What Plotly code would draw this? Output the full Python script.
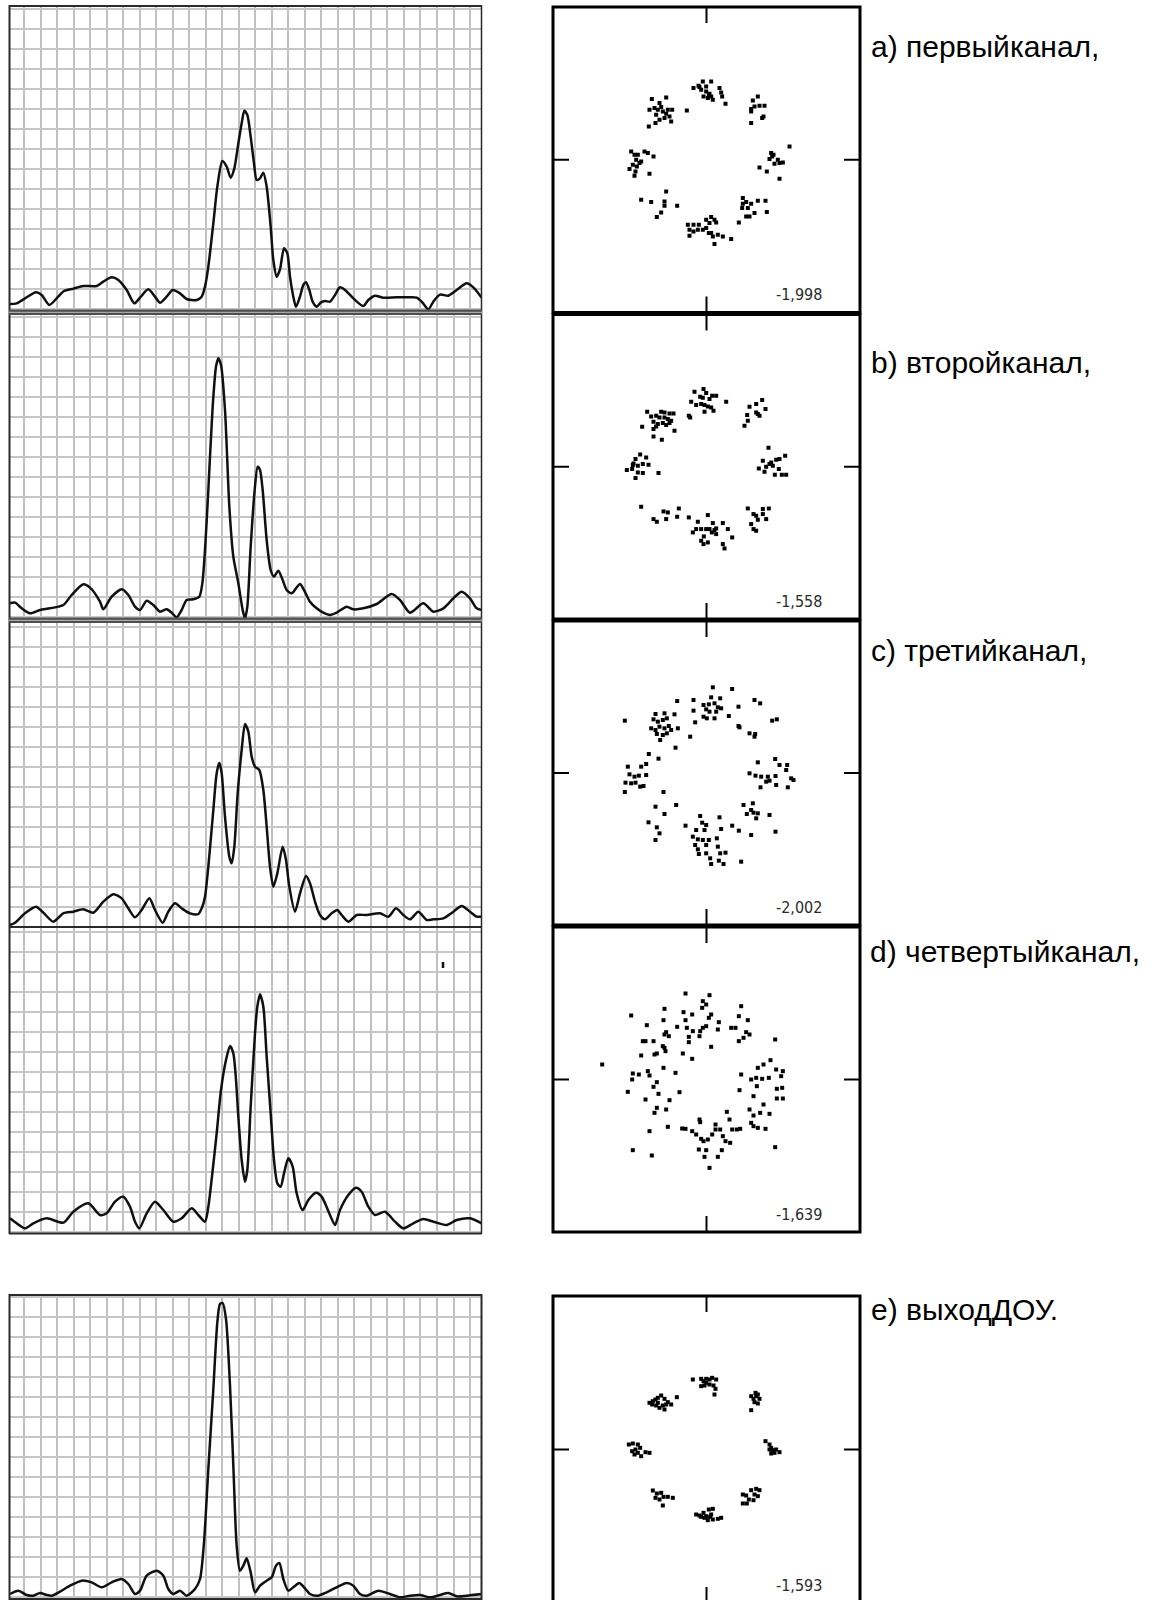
import plotly.graph_objects as go

FIG_W, FIG_H = 1159, 1600

# ---------------- correlation responses: delay (samples) and amplitude ----------------
ch1_delay = [3, 23, 48, 81, 98, 121, 143, 165, 193, 223, 263, 283, 308, 328, 353, 376, 393, 418, 438, 453,
             473, 491, 513, 533, 563, 578, 588, 598, 613, 625, 640, 653, 665, 676, 688, 698, 706, 715, 725, 735,
             743, 753, 763, 773, 785, 793, 803, 813, 825, 835, 843, 853, 861, 873, 883, 891, 901, 911, 923, 935,
             948, 963, 978, 993, 1008, 1033, 1063, 1078, 1098, 1123, 1163, 1203, 1223, 1238, 1258, 1273, 1293,
             1318, 1343, 1373, 1393, 1418]
ch1_amp = [24, 26, 41, 59, 51, 21, 41, 63, 70, 78, 78, 91, 104, 96, 66, 26, 43, 68, 46, 28,
           46, 66, 56, 39, 36, 46, 76, 136, 266, 376, 453, 436, 403, 431, 506, 566, 604, 591, 526, 446,
           396, 401, 418, 376, 256, 156, 106, 128, 191, 176, 106, 46, 16, 46, 81, 89, 66, 31, 16, 28,
           33, 31, 51, 74, 66, 41, 18, 36, 49, 43, 44, 44, 43, 31, 8, 31, 52,
           49, 66, 86, 74, 43]

ch2_delay = [3, 18, 38, 63, 93, 123, 163, 188, 223, 243, 273, 283, 308, 338, 358, 378, 393, 413, 433, 453,
             473, 488, 503, 518, 533, 553, 571, 580, 588, 598, 611, 621, 628, 636, 648, 661, 673, 688, 701, 708,
             715, 725, 737, 746, 753, 761, 773, 785, 795, 808, 821, 833, 848, 861, 873, 885, 903, 923, 943, 963,
             983, 1013, 1033, 1063, 1103, 1148, 1173, 1203, 1243, 1273, 1303, 1333, 1358, 1383, 1403, 1418]
ch2_amp = [50, 52, 35, 20, 30, 35, 45, 75, 107, 97, 55, 32, 70, 92, 75, 40, 30, 58, 45, 25,
           32, 22, 8, 30, 60, 62, 70, 110, 210, 390, 640, 760, 785, 765, 630, 340, 190, 110, 30, 5,
           40, 220, 390, 460, 450, 390, 240, 150, 130, 148, 120, 90, 80, 95, 108, 90, 55, 35, 22, 15,
           22, 40, 32, 35, 48, 78, 60, 22, 50, 25, 35, 65, 85, 65, 35, 30]

ch3_delay = [3, 18, 48, 81, 103, 133, 163, 193, 223, 253, 283, 313, 338, 358, 378, 398, 421, 438, 461, 478,
             498, 518, 543, 568, 580, 588, 598, 613, 623, 631, 638, 648, 661, 668, 676, 686, 698, 708, 718, 728,
             738, 751, 763, 773, 783, 793, 805, 821, 831, 841, 858, 873, 891, 903, 918, 933, 948, 968, 985, 998,
             1018, 1043, 1073, 1113, 1138, 1161, 1183, 1203, 1228, 1253, 1273, 1303, 1333, 1358, 1383, 1403, 1418]
ch3_amp = [6, 13, 41, 61, 43, 16, 41, 46, 53, 43, 76, 98, 86, 56, 29, 51, 86, 51, 13, 46,
           71, 56, 41, 39, 61, 91, 181, 351, 461, 493, 461, 331, 211, 191, 241, 401, 531, 609, 586, 511,
           481, 471, 411, 301, 181, 121, 161, 241, 201, 121, 46, 101, 153, 131, 76, 36, 23, 41, 51, 36,
           16, 36, 36, 41, 31, 56, 36, 23, 46, 21, 23, 26, 46, 63, 46, 31, 31]

ch4_delay = [3, 23, 48, 73, 113, 163, 193, 238, 273, 293, 318, 343, 363, 378, 391, 413, 438, 463, 493, 518,
             548, 568, 588, 598, 610, 623, 636, 651, 663, 673, 681, 688, 698, 708, 715, 725, 738, 745, 753, 763,
             773, 785, 795, 805, 815, 825, 838, 851, 863, 881, 898, 921, 938, 963, 978, 993, 1018, 1041, 1058,
             1078, 1098, 1128, 1158, 1183, 1213, 1243, 1273, 1313, 1343, 1383, 1418]
ch4_amp = [44, 29, 14, 29, 44, 31, 64, 89, 54, 59, 94, 109, 79, 34, 14, 59, 94, 69, 34, 44,
           74, 54, 34, 79, 179, 299, 429, 519, 561, 539, 459, 349, 219, 154, 189, 379, 599, 679, 716, 679,
           529, 359, 219, 149, 139, 179, 224, 199, 119, 69, 99, 121, 109, 54, 24, 69, 114, 136, 124,
           79, 54, 64, 34, 14, 29, 42, 34, 24, 39, 44, 29]

out_delay = [3, 28, 53, 73, 93, 113, 128, 153, 183, 218, 248, 278, 308, 338, 358, 378, 393, 413, 443, 463,
             478, 493, 513, 533, 558, 573, 585, 598, 613, 625, 633, 641, 651, 663, 673, 683, 693, 703, 713, 725,
             738, 753, 773, 788, 801, 811, 823, 838, 853, 871, 885, 903, 928, 953, 983, 1013, 1033, 1053, 1073,
             1108, 1143, 1173, 1203, 1233, 1263, 1293, 1318, 1343, 1373, 1418]
out_amp = [15, 25, 12, 10, 18, 12, 10, 22, 40, 55, 50, 35, 50, 60, 45, 15, 25, 70, 85, 70,
           30, 15, 25, 10, 30, 60, 170, 390, 630, 830, 885, 888, 840, 640, 400, 160, 85, 100, 122, 80,
           20, 40, 55, 65, 100, 108, 60, 25, 35, 48, 35, 15, 10, 20, 35, 48, 40, 15, 10,
           25, 15, 5, 10, 12, 5, 12, 18, 8, 10, 15]

# ---------------- received constellations: (I, Q) ----------------
const_ch1 = [(-39, 215), (-24, 222), (-11, 235), (14, 235), (-16, 210), (-1, 205), (7, 195), (14, 190), (4, 185),
             (-9, 190), (39, 215), (44, 202), (47, 190), (57, 168), (-21, 218), (-1, 220), (19, 180), (9, 198),
             (-164, 182), (-121, 187), (-141, 170), (-171, 150), (-156, 155), (-146, 150), (-151, 135), (-131, 145),
             (-116, 150), (-103, 150), (-111, 130), (-126, 125), (-141, 120), (-153, 110), (-173, 100), (-106, 115),
             (-59, 148), (-136, 158), (-121, 138),
             (139, 178), (154, 190), (134, 152), (144, 160), (159, 162), (174, 162), (134, 145), (167, 125),
             (171, 130), (134, 110),
             (-226, 25), (-216, 15), (-206, 15), (-186, 25), (-176, 20), (-159, 10), (-211, 0), (-221, -15),
             (-201, -10), (-231, -28), (-209, -20), (-213, -35), (-216, -48), (-171, -42), (-196, -5),
             (249, 40), (194, 20), (201, 15), (189, 2), (214, 0), (219, -10), (229, -8), (204, -12), (159, -23),
             (181, -35), (219, -57), (197, 10),
             (-196, -120), (-166, -127), (-121, -95), (-126, -125), (-126, -138), (-88, -138), (-136, -158),
             (-149, -172),
             (109, -115), (119, -127), (134, -132), (154, -123), (177, -123), (107, -145), (124, -145),
             (144, -160), (119, -170), (129, -170), (181, -157), (97, -188), (109, -132),
             (14, -172), (-1, -180), (24, -180), (-56, -195), (-39, -195), (-23, -195), (9, -190), (29, -188),
             (-51, -210), (-39, -215), (-26, -210), (-11, -210), (-1, -205), (14, -220), (19, -230), (34, -225),
             (49, -230), (74, -238), (24, -253), (-51, -228), (7, -220)]

const_ch2 = [(-36, 225), (-9, 233), (-1, 221), (-19, 210), (-11, 207), (17, 213), (29, 213), (59, 195), (-46, 195),
             (-31, 185), (-16, 188), (-6, 185), (4, 181), (14, 178), (21, 168), (-6, 165), (-53, 153), (-49, 148),
             (9, 203),
             (-178, 165), (-136, 165), (-126, 163), (-111, 160), (-99, 160), (-166, 151), (-151, 153), (-141, 148),
             (-126, 148), (-116, 143), (-106, 138), (-159, 135), (-146, 128), (-131, 131), (-121, 125), (-193, 120),
             (-159, 113), (-96, 108), (-159, 91), (-134, 81), (-151, 121), (-111, 131),
             (167, 200), (149, 188), (129, 180), (177, 173), (154, 158), (122, 155), (159, 153), (124, 138),
             (114, 123), (149, 163),
             (-199, 37), (-213, 23), (-181, 28), (-219, 10), (-206, 3), (-191, 8), (-174, 6), (-239, -10),
             (-223, -7), (-206, -17), (-191, -19), (-213, -34), (-144, -19), (-221, 5),
             (186, 57), (236, 33), (219, 23), (209, 21), (169, 18), (194, 13), (189, 8), (199, 3), (157, -5),
             (174, -15), (217, -7), (205, -24), (226, -24), (239, -24), (179, 0),
             (-196, -120), (-129, -134), (-116, -137), (-83, -125), (-159, -157), (-149, -165), (-121, -157),
             (-88, -150), (-53, -152),
             (124, -125), (169, -127), (187, -125), (141, -142), (149, -147), (169, -142), (179, -157),
             (154, -159), (134, -172), (141, -187), (149, -192),
             (4, -145), (-26, -165), (49, -169), (19, -169), (-31, -187), (-16, -187), (-1, -187), (9, -187),
             (29, -185), (64, -187), (-41, -197), (16, -197), (29, -202), (-8, -209), (-16, -222), (-9, -232),
             (4, -227), (77, -212), (49, -232), (54, -245), (24, -190)]

const_ch3 = [(19, 257), (77, 252), (-88, 216), (-39, 219), (14, 227), (41, 224), (-9, 204), (7, 206), (24, 209),
             (34, 197), (44, 194), (-39, 187), (-1, 191), (9, 184), (29, 184), (-9, 169), (1, 164), (24, 164),
             (67, 171), (96, 199), (144, 219), (161, 209), (-34, 152), (-49, 109), (96, 141), (99, 137), (197, 157),
             (211, 161), (129, 119), (146, 117), (144, 109), (-245, 157), (-153, 177), (-126, 179), (-96, 176),
             (-159, 161), (-146, 154), (-131, 159), (-119, 164), (-166, 134), (-153, 129), (-141, 139), (-126, 134),
             (-113, 141), (-106, 129), (-86, 134), (-149, 117), (-131, 114), (-119, 119), (-139, 99), (-93, 76),
             (-173, 57), (-144, 43), (-236, 19), (-196, 19), (-181, 27), (-231, -4), (-216, -11), (-203, -8),
             (-181, -6), (-226, -31), (-243, -29), (-213, -29), (-199, -41), (-189, -39), (-245, -57), (-129, -57),
             (154, 32), (206, 42), (219, 24), (242, 24), (129, -1), (147, -8), (164, -11), (184, -11), (207, -9),
             (239, 9), (254, -16), (261, -21), (179, -26), (189, -23), (209, -36), (162, -43), (244, -43),
             (-153, -101), (-91, -96), (-126, -123), (111, -96), (139, -91), (134, -111), (141, -119), (154, -121),
             (121, -123), (149, -136), (189, -126), (-174, -148), (-149, -163), (-141, -181), (-153, -201),
             (-63, -158), (-19, -129), (-13, -149), (-1, -156), (-31, -171), (-6, -171), (39, -133), (44, -168),
             (77, -158), (97, -173), (-41, -191), (-26, -199), (-11, -201), (7, -201), (31, -196), (134, -186),
             (207, -176), (-34, -216), (-26, -229), (-1, -216), (34, -221), (-23, -243), (-1, -241), (41, -241),
             (57, -239), (11, -256), (14, -273), (37, -263), (51, -273), (104, -266)]

const_ch4 = [(-63, 258), (9, 253), (-11, 235), (-1, 225), (-13, 215), (14, 195), (7, 185), (-126, 212), (-69, 202),
             (-43, 195), (-226, 192), (-129, 178), (-88, 158), (-59, 155), (-63, 178), (-179, 163), (-121, 142),
             (-113, 130), (-126, 135), (-53, 128), (-53, 112), (-41, 145), (-19, 145), (-1, 160), (-11, 155),
             (-21, 130), (14, 98), (37, 172), (34, 150), (74, 155), (87, 155), (97, 190), (104, 220), (124, 178),
             (119, 142), (129, 135), (111, 125), (97, 115), (206, 120), (-191, 115), (-183, 115), (-159, 115),
             (-131, 100), (-126, 95), (-123, 85), (-149, 78), (-196, 72), (-156, 75), (-71, 78), (-43, 62),
             (-313, 45), (-129, 35), (-93, 20), (-221, 18), (-203, 15), (-176, 25), (-171, 12), (-223, 0),
             (-149, -8), (-236, -37), (-159, -22), (-144, -43), (-81, -38), (-183, -60), (-111, -62), (-149, -85),
             (-156, -100), (-121, -90), (192, 58), (171, 45), (154, 35), (209, 30), (229, 25), (104, 15), (134, 0),
             (149, 5), (167, 2), (187, 5), (224, 10), (151, -20), (211, -28), (227, -25), (211, -57), (229, -57),
             (99, -32), (141, -50), (171, -75), (129, -90), (141, -108), (161, -100), (189, -103), (134, -130),
             (141, -140), (154, -145), (177, -148), (61, -97), (69, -120), (-171, -155), (-116, -142), (-73, -147),
             (-63, -148), (-43, -155), (-21, -120), (-19, -128), (-31, -165), (-16, -178), (-9, -185), (4, -180),
             (17, -165), (27, -150), (27, -135), (41, -150), (49, -170), (57, -185), (71, -190), (77, -150),
             (91, -150), (101, -148), (-23, -210), (-1, -212), (-6, -232), (34, -232), (46, -212), (9, -265),
             (-221, -212), (-164, -228), (206, -203)]

const_out = [(-41, 210), (-16, 212), (-9, 205), (-1, 212), (9, 210), (17, 215), (-16, 190), (-6, 192), (9, 195),
             (21, 192), (27, 182), (24, 165), (-1, 200), (29, 210),
             (-171, 140), (-161, 145), (-153, 150), (-146, 155), (-136, 162), (-126, 152), (-116, 142), (-106, 135),
             (-89, 157), (-151, 132), (-141, 125), (-126, 120), (-131, 132), (-163, 135), (-146, 140), (-121, 135),
             (147, 170), (154, 165), (134, 160), (141, 152), (159, 152), (144, 142), (154, 138), (134, 118),
             (149, 160),
             (-233, 15), (-221, 18), (-206, 15), (-199, 5), (-213, 0), (-206, -10), (-216, -15), (-196, -20),
             (-183, -8), (-171, -10), (-223, -5),
             (177, 25), (189, 15), (194, 5), (199, -2), (209, 0), (219, -8), (204, -10), (194, -12), (189, 0),
             (-161, -123), (-149, -132), (-136, -130), (-129, -142), (-141, -150), (-116, -142), (-101, -145),
             (-153, -145), (-131, -168),
             (109, -135), (119, -138), (134, -122), (149, -118), (159, -122), (144, -135), (154, -140), (127, -150),
             (109, -162), (121, -162), (141, -152),
             (-31, -195), (-21, -198), (-9, -190), (-1, -200), (7, -180), (19, -178), (14, -195), (19, -210),
             (4, -212), (-6, -205), (34, -208), (44, -205), (-16, -202), (11, -202)]

metric_values = ["-1,998", "-1,558", "-2,002", "-1,639", "-1,593"]
captions = ["a) первыйканал,", "b) второйканал,", "c) третийканал,", "d) четвертыйканал,", "e) выходДОУ."]

delays = [ch1_delay, ch2_delay, ch3_delay, ch4_delay, out_delay]
amps = [ch1_amp, ch2_amp, ch3_amp, ch4_amp, out_amp]
consts = [const_ch1, const_ch2, const_ch3, const_ch4, const_out]

# ---------------- page geometry (pixels) ----------------
CURVE_X = (9, 482)
CONST_X = (553, 860)
curve_rows = [(6, 312), (313, 620), (621, 927), (927, 1233), (1295, 1599)]
const_rows = [(7, 312.5), (314.5, 619), (621, 925), (927, 1232), (1296, 1603)]
grid_tick0 = [8, 10, 1, 4, 5]
caption_pos = [(869, 46), (869, 362), (869, 650), (868, 951), (869, 1309)]
UNIT = 3.0          # data units per pixel on every panel
HALF = (CONST_X[1] - CONST_X[0]) / 2 * UNIT

FONT = "Liberation Sans, Arial, sans-serif"
NARROW = "Liberation Sans Narrow, DejaVu Sans Condensed, Liberation Sans, sans-serif"


def px(x):
    return x / FIG_W


def py(y):
    return 1 - y / FIG_H


fig = go.Figure()
layout = {}
shapes = []
annotations = []

for k in range(5):
    n_curve = 2 * k + 1
    n_const = 2 * k + 2
    xc_name = "xaxis" if n_curve == 1 else f"xaxis{n_curve}"
    yc_name = "yaxis" if n_curve == 1 else f"yaxis{n_curve}"
    xc_ref = "x" if n_curve == 1 else f"x{n_curve}"
    yc_ref = "y" if n_curve == 1 else f"y{n_curve}"

    top, bot = curve_rows[k]
    layout[xc_name] = dict(domain=[px(CURVE_X[0]), px(CURVE_X[1])], anchor=yc_ref,
                           range=[0, (CURVE_X[1] - CURVE_X[0]) * UNIT],
                           showgrid=True, gridcolor="#c0c0c0", gridwidth=2,
                           tick0=45, dtick=49.56, showticklabels=False, ticks="",
                           zeroline=False, showline=False, fixedrange=True)
    layout[yc_name] = dict(domain=[py(bot), py(top)], anchor=xc_ref,
                           range=[0, (bot - top) * UNIT],
                           showgrid=True, gridcolor="#c6c6c6", gridwidth=2,
                           tick0=grid_tick0[k], dtick=60, showticklabels=False, ticks="",
                           zeroline=False, showline=False, fixedrange=True)
    fig.add_trace(go.Scatter(x=delays[k], y=amps[k], mode="lines", xaxis=xc_ref, yaxis=yc_ref,
                             line=dict(color="#101010", width=2.5, shape="spline", smoothing=0.7),
                             hoverinfo="skip", showlegend=False))

    # constellation panel
    xs_name = f"xaxis{n_const}"
    ys_name = f"yaxis{n_const}"
    xs_ref = f"x{n_const}"
    ys_ref = f"y{n_const}"
    ctop, cbot = const_rows[k]
    cy = (ctop + cbot) / 2
    vis_bot = min(cbot, FIG_H)
    layout[xs_name] = dict(domain=[px(CONST_X[0]), px(CONST_X[1])], anchor=ys_ref,
                           range=[-HALF, HALF], showgrid=False, zeroline=False,
                           showticklabels=False, ticks="", showline=False, fixedrange=True)
    layout[ys_name] = dict(domain=[py(vis_bot), py(ctop)], anchor=xs_ref,
                           range=[-(vis_bot - cy) * UNIT, (cy - ctop) * UNIT],
                           showgrid=False, zeroline=False,
                           showticklabels=False, ticks="", showline=False, fixedrange=True)
    pts = consts[k]
    fig.add_trace(go.Scatter(x=[p[0] for p in pts], y=[p[1] for p in pts], mode="markers",
                             xaxis=xs_ref, yaxis=ys_ref,
                             marker=dict(symbol="square", size=4, color="#000000", line=dict(width=0)),
                             hoverinfo="skip", showlegend=False))

    # frame of the constellation panel
    shapes.append(dict(type="rect", xref="paper", yref="paper",
                       x0=px(CONST_X[0]), x1=px(CONST_X[1]), y0=py(cbot), y1=py(ctop),
                       line=dict(color="#000000", width=3), layer="above"))
    # centre cross ticks on the frame
    qt = (cy - ctop) * UNIT
    qb = -(cbot - cy) * UNIT
    tick = 16 * UNIT
    for (x0, y0, x1, y1) in [(0, qt, 0, qt - tick), (0, qb, 0, qb + tick),
                             (-HALF, 0, -HALF + tick, 0), (HALF, 0, HALF - tick, 0)]:
        shapes.append(dict(type="line", xref=xs_ref, yref=ys_ref, x0=x0, y0=y0, x1=x1, y1=y1,
                           line=dict(color="#000000", width=2), layer="above"))

    annotations.append(dict(xref=xs_ref, yref=ys_ref, x=HALF - 108, y=qb + 18 * UNIT,
                            text=metric_values[k], showarrow=False, xanchor="right", yanchor="middle",
                            font=dict(family=NARROW, size=16, color="#2a2a2a")))

    cx, cyy = caption_pos[k]
    annotations.append(dict(xref="paper", yref="paper", x=px(cx), y=py(cyy),
                            text=captions[k], showarrow=False, xanchor="left", yanchor="middle",
                            font=dict(family=FONT, size=30, color="#000000")))

# ---------------- frames of the correlation panels ----------------
L, R = CURVE_X
dark = "#2a2a2a"
shapes += [
    dict(type="line", xref="paper", yref="paper", x0=px(L + 0.5), x1=px(L + 0.5), y0=py(1234), y1=py(5),
         line=dict(color=dark, width=2), layer="above"),
    dict(type="line", xref="paper", yref="paper", x0=px(R - 0.5), x1=px(R - 0.5), y0=py(1234), y1=py(5),
         line=dict(color=dark, width=1.5), layer="above"),
    dict(type="line", xref="paper", yref="paper", x0=px(L), x1=px(R), y0=py(6), y1=py(6),
         line=dict(color=dark, width=2), layer="above"),
]
for y_sep in (312.3, 620.3):
    shapes.append(dict(type="rect", xref="paper", yref="paper", x0=px(L), x1=px(R),
                       y0=py(y_sep + 2.8), y1=py(y_sep - 2.8), fillcolor="#4e4e4e",
                       line=dict(width=0), layer="above"))
    shapes.append(dict(type="line", xref="paper", yref="paper", x0=px(L), x1=px(R),
                       y0=py(y_sep), y1=py(y_sep), line=dict(color="#a8a8a8", width=1.2), layer="above"))
for y_line in (927, 1233.5):
    shapes.append(dict(type="line", xref="paper", yref="paper", x0=px(L), x1=px(R),
                       y0=py(y_line), y1=py(y_line), line=dict(color=dark, width=2), layer="above"))
shapes.append(dict(type="rect", xref="paper", yref="paper", x0=px(L + 0.5), x1=px(R - 0.5),
                   y0=py(1599), y1=py(1295), line=dict(color=dark, width=2), layer="above"))
# stray marker in the fourth channel panel
shapes.append(dict(type="line", xref="x7", yref="y7", x0=1302, x1=1302, y0=795, y1=813,
                   line=dict(color="#111111", width=2.5), layer="above"))

fig.update_layout(width=FIG_W, height=FIG_H, autosize=False,
                  margin=dict(l=0, r=0, t=0, b=0),
                  paper_bgcolor="white", plot_bgcolor="white",
                  shapes=shapes, annotations=annotations, showlegend=False, **layout)

fig.write_html("out.html")
